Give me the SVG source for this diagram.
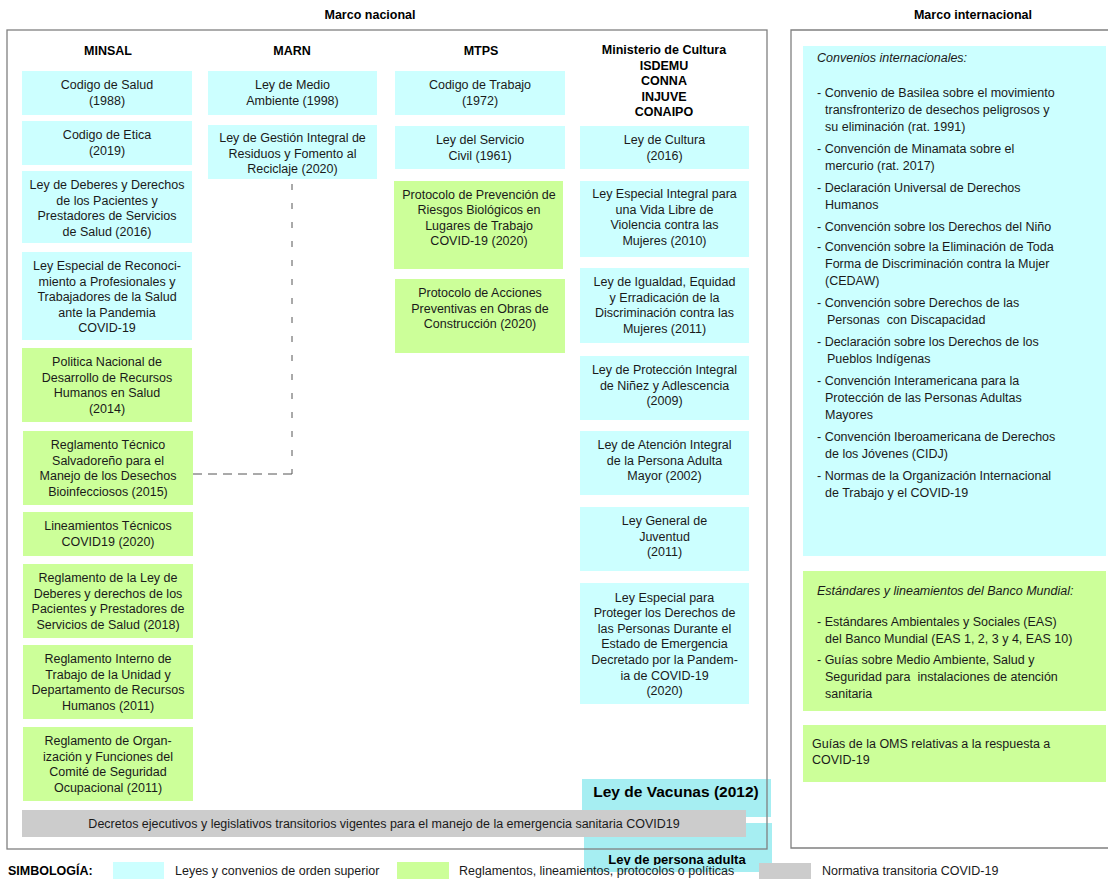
<svg xmlns="http://www.w3.org/2000/svg" width="1108" height="880" viewBox="0 0 1108 880">
<defs>
<style>
text{font-family:"Liberation Sans",Arial,sans-serif;font-size:12.5px;fill:#1a1a1a}
.c{text-anchor:middle}
.h{font-weight:bold;font-size:12.5px;text-anchor:middle;fill:#000}
.b{fill:#CCFFFF}
.g{fill:#CCFF99}
.gr{fill:#CCCCCC}
.v{fill:#A6EEF2}
.frame{fill:none;stroke:#808080;stroke-width:1.3}
.it{font-style:italic}
.dash{fill:none;stroke:#555;stroke-width:1}
</style>
<clipPath id="clipAdulta"><rect x="580" y="820" width="200" height="45"/></clipPath>
</defs>
<rect width="1108" height="880" fill="#fff"/>

<text class="h" x="370" y="19">Marco nacional</text>
<text class="h" x="973" y="19">Marco internacional</text>

<g id="headers">
<text class="h" x="108" y="55">MINSAL</text>
<text class="h" x="292" y="55">MARN</text>
<text class="h" x="481" y="55">MTPS</text>
<text class="h" x="664" y="54"><tspan x="664">Ministerio de Cultura</tspan><tspan x="664" dy="15.5">ISDEMU</tspan><tspan x="664" dy="15.5">CONNA</tspan><tspan x="664" dy="15.5">INJUVE</tspan><tspan x="664" dy="15.5">CONAIPO</tspan></text>
</g>

<g id="ley-vacunas">
<rect class="v" x="582" y="779" width="189" height="38"/>
<text x="676" y="797" class="c" style="font-weight:bold;font-size:15.5px;fill:#000">Ley de Vacunas (2012)</text>
</g>
<g id="ley-persona-adulta">
<rect class="v" x="584" y="823" width="188" height="49"/>
<text x="677" y="864" class="c" clip-path="url(#clipAdulta)" style="font-weight:bold;font-size:13px;fill:#000">Ley de persona adulta</text>
</g>

<g id="minsal-1"><rect class="b" x="22" y="71" width="170" height="44"/><text class="c" y="89"><tspan x="107">Codigo de Salud</tspan><tspan x="107" dy="15.6">(1988)</tspan></text></g>
<g id="minsal-2"><rect class="b" x="22" y="121" width="170" height="44"/><text class="c" y="139"><tspan x="107">Codigo de Etica</tspan><tspan x="107" dy="15.6">(2019)</tspan></text></g>
<g id="minsal-3"><rect class="b" x="22" y="171" width="170" height="72"/><text class="c" y="189"><tspan x="107">Ley de Deberes y Derechos</tspan><tspan x="107" dy="15.6">de los Pacientes y</tspan><tspan x="107" dy="15.6">Prestadores de Servicios</tspan><tspan x="107" dy="15.6">de Salud (2016)</tspan></text></g>
<g id="minsal-4"><rect class="b" x="22" y="252" width="170" height="88"/><text class="c" y="270"><tspan x="107">Ley Especial de Reconoci-</tspan><tspan x="107" dy="15.6">miento a Profesionales y</tspan><tspan x="107" dy="15.6">Trabajadores de la Salud</tspan><tspan x="107" dy="15.6">ante la Pandemia</tspan><tspan x="107" dy="15.6">COVID-19</tspan></text></g>
<g id="minsal-5"><rect class="g" x="22" y="348" width="170" height="74"/><text class="c" y="366"><tspan x="107">Politica Nacional de</tspan><tspan x="107" dy="15.6">Desarrollo de Recursos</tspan><tspan x="107" dy="15.6">Humanos en Salud</tspan><tspan x="107" dy="15.6">(2014)</tspan></text></g>
<g id="minsal-6"><rect class="g" x="23" y="431" width="170" height="74"/><text class="c" y="449"><tspan x="108">Reglamento Técnico</tspan><tspan x="108" dy="15.6">Salvadoreño para el</tspan><tspan x="108" dy="15.6">Manejo de los Desechos</tspan><tspan x="108" dy="15.6">Bioinfecciosos (2015)</tspan></text></g>
<g id="minsal-7"><rect class="g" x="23" y="512" width="170" height="44"/><text class="c" y="530"><tspan x="108">Lineamientos Técnicos</tspan><tspan x="108" dy="15.6">COVID19 (2020)</tspan></text></g>
<g id="minsal-8"><rect class="g" x="23" y="564" width="170" height="74"/><text class="c" y="582"><tspan x="108">Reglamento de la Ley de</tspan><tspan x="108" dy="15.6">Deberes y derechos de los</tspan><tspan x="108" dy="15.6">Pacientes y Prestadores de</tspan><tspan x="108" dy="15.6">Servicios de Salud (2018)</tspan></text></g>
<g id="minsal-9"><rect class="g" x="23" y="645" width="170" height="74"/><text class="c" y="663"><tspan x="108">Reglamento Interno de</tspan><tspan x="108" dy="15.6">Trabajo de la Unidad y</tspan><tspan x="108" dy="15.6">Departamento de Recursos</tspan><tspan x="108" dy="15.6">Humanos (2011)</tspan></text></g>
<g id="minsal-10"><rect class="g" x="23" y="727" width="170" height="74"/><text class="c" y="745"><tspan x="108">Reglamento de Organ-</tspan><tspan x="108" dy="15.6">ización y Funciones del</tspan><tspan x="108" dy="15.6">Comité de Seguridad</tspan><tspan x="108" dy="15.6">Ocupacional (2011)</tspan></text></g>

<g id="marn-1"><rect class="b" x="208" y="71" width="169" height="44"/><text class="c" y="89"><tspan x="292.5">Ley de Medio</tspan><tspan x="292.5" dy="15.6">Ambiente (1998)</tspan></text></g>
<g id="marn-2"><rect class="b" x="208" y="125" width="169" height="54"/><text class="c" y="142"><tspan x="292.5">Ley de Gestión Integral de</tspan><tspan x="292.5" dy="15.6">Residuos y Fomento al</tspan><tspan x="292.5" dy="15.6">Reciclaje (2020)</tspan></text></g>

<g id="mtps-1"><rect class="b" x="395" y="71" width="170" height="44"/><text class="c" y="89"><tspan x="480">Codigo de Trabajo</tspan><tspan x="480" dy="15.6">(1972)</tspan></text></g>
<g id="mtps-2"><rect class="b" x="395" y="126" width="170" height="43"/><text class="c" y="144"><tspan x="480">Ley del Servicio</tspan><tspan x="480" dy="15.6">Civil (1961)</tspan></text></g>
<g id="mtps-3"><rect class="g" x="394" y="181" width="169" height="88"/><text class="c" y="198.5"><tspan x="479">Protocolo de Prevención de</tspan><tspan x="479" dy="15.6">Riesgos Biológicos en</tspan><tspan x="479" dy="15.6">Lugares de Trabajo</tspan><tspan x="479" dy="15.6">COVID-19 (2020)</tspan></text></g>
<g id="mtps-4"><rect class="g" x="395" y="279" width="170" height="74"/><text class="c" y="297"><tspan x="480">Protocolo de Acciones</tspan><tspan x="480" dy="15.6">Preventivas en Obras de</tspan><tspan x="480" dy="15.6">Construcción (2020)</tspan></text></g>

<g id="cult-1"><rect class="b" x="580" y="126" width="169" height="43"/><text class="c" y="144"><tspan x="664.5">Ley de Cultura</tspan><tspan x="664.5" dy="15.6">(2016)</tspan></text></g>
<g id="cult-2"><rect class="b" x="580" y="181" width="169" height="76"/><text class="c" y="198"><tspan x="664.5">Ley Especial Integral para</tspan><tspan x="664.5" dy="15.6">una Vida Libre de</tspan><tspan x="664.5" dy="15.6">Violencia contra las</tspan><tspan x="664.5" dy="15.6">Mujeres (2010)</tspan></text></g>
<g id="cult-3"><rect class="b" x="580" y="268" width="169" height="75"/><text class="c" y="286"><tspan x="664.5">Ley de Igualdad, Equidad</tspan><tspan x="664.5" dy="15.6">y Erradicación de la</tspan><tspan x="664.5" dy="15.6">Discriminación contra las</tspan><tspan x="664.5" dy="15.6">Mujeres (2011)</tspan></text></g>
<g id="cult-4"><rect class="b" x="580" y="356" width="169" height="64"/><text class="c" y="374"><tspan x="664.5">Ley de Protección Integral</tspan><tspan x="664.5" dy="15.6">de Niñez y Adlescencia</tspan><tspan x="664.5" dy="15.6">(2009)</tspan></text></g>
<g id="cult-5"><rect class="b" x="580" y="431" width="169" height="64"/><text class="c" y="449"><tspan x="664.5">Ley de Atención Integral</tspan><tspan x="664.5" dy="15.6">de la Persona Adulta</tspan><tspan x="664.5" dy="15.6">Mayor (2002)</tspan></text></g>
<g id="cult-6"><rect class="b" x="580" y="507" width="169" height="64"/><text class="c" y="525"><tspan x="664.5">Ley General de</tspan><tspan x="664.5" dy="15.6">Juventud</tspan><tspan x="664.5" dy="15.6">(2011)</tspan></text></g>
<g id="cult-7"><rect class="b" x="580" y="583" width="169" height="121"/><text class="c" y="601.5"><tspan x="664.5">Ley Especial para</tspan><tspan x="664.5" dy="15.6">Proteger los Derechos de</tspan><tspan x="664.5" dy="15.6">las Personas Durante el</tspan><tspan x="664.5" dy="15.6">Estado de Emergencia</tspan><tspan x="664.5" dy="15.6">Decretado por la Pandem-</tspan><tspan x="664.5" dy="15.6">ia de COVID-19</tspan><tspan x="664.5" dy="15.6">(2020)</tspan></text></g>

<rect class="frame" x="7" y="30" width="760" height="819"/>
<path class="frame" d="M1110 30 H791 V848 H1110"/>

<g id="decretos">
<rect class="gr" x="22" y="810" width="724" height="27"/>
<text class="c" x="384" y="828">Decretos ejecutivos y legislativos transitorios vigentes para el manejo de la emergencia sanitaria COVID19</text>
</g>

<g id="convenios">
<rect class="b" x="803" y="46" width="303" height="510"/>
<text class="it" x="817" y="62">Convenios internacionales:</text>
<text x="817" y="97">- Convenio de Basilea sobre el movimiento</text>
<text x="825" y="114">transfronterizo de desechos peligrosos y</text>
<text x="825" y="131">su eliminación (rat. 1991)</text>
<text x="817" y="153">- Convención de Minamata sobre el</text>
<text x="825" y="170">mercurio (rat. 2017)</text>
<text x="817" y="192">- Declaración Universal de Derechos</text>
<text x="825" y="209">Humanos</text>
<text x="817" y="231">- Convención sobre los Derechos del Niño</text>
<text x="817" y="251">- Convención sobre la Eliminación de Toda</text>
<text x="825" y="268">Forma de Discriminación contra la Mujer</text>
<text x="825" y="285">(CEDAW)</text>
<text x="817" y="307">- Convención sobre Derechos de las</text>
<text x="827" y="324" xml:space="preserve">Personas  con Discapacidad</text>
<text x="817" y="346">- Declaración sobre los Derechos de los</text>
<text x="827" y="363">Pueblos Indígenas</text>
<text x="817" y="385">- Convención Interamericana para la</text>
<text x="825" y="402">Protección de las Personas Adultas</text>
<text x="825" y="419">Mayores</text>
<text x="817" y="441">- Convención Iberoamericana de Derechos</text>
<text x="825" y="458">de los Jóvenes (CIDJ)</text>
<text x="817" y="480">- Normas de la Organización Internacional</text>
<text x="825" y="497">de Trabajo y el COVID-19</text>
</g>
<g id="banco-mundial">
<rect class="g" x="803" y="571" width="303" height="140"/>
<text class="it" x="817" y="595">Estándares y lineamientos del Banco Mundial:</text>
<text x="817" y="626">- Estándares Ambientales y Sociales (EAS)</text>
<text x="825" y="643">del Banco Mundial (EAS 1, 2, 3 y 4, EAS 10)</text>
<text x="817" y="664">- Guías sobre Medio Ambiente, Salud y</text>
<text x="825" y="681" xml:space="preserve">Seguridad para  instalaciones de atención</text>
<text x="825" y="698">sanitaria</text>
</g>
<g id="oms">
<rect class="g" x="803" y="725" width="303" height="57"/>
<text x="812" y="748">Guías de la OMS relativas a la respuesta a</text>
<text x="812" y="764">COVID-19</text>
</g>

<g id="connectors">
<path class="dash" d="M292 184 V474" stroke-dasharray="6,13"/>
<path class="dash" d="M292 474 H193" stroke-dasharray="9,6"/>
</g>

<g id="legend">
<text x="8" y="875" style="font-weight:bold;fill:#000">SIMBOLOGÍA:</text>
<rect class="b" x="113" y="862" width="51" height="17"/>
<text x="175" y="875">Leyes y convenios de orden superior</text>
<rect class="g" x="397" y="862" width="52" height="17"/>
<text x="459" y="875">Reglamentos, lineamientos, protocolos o políticas</text>
<rect class="gr" x="759" y="863" width="52" height="16"/>
<text x="822" y="875">Normativa transitoria COVID-19</text>
</g>
</svg>
